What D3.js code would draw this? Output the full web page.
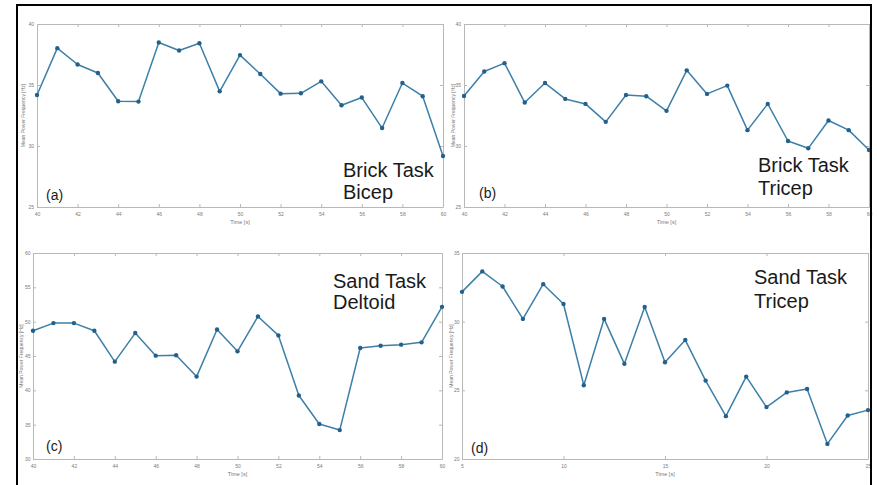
<!DOCTYPE html>
<html>
<head>
<meta charset="utf-8">
<script src="https://cdn.jsdelivr.net/npm/d3@7"></script>
<style>
  body { margin: 0; background: #fff; }
  svg { display: block; }
</style>
</head>
<body>
<svg id="chart" width="877" height="485"></svg>
<script>
// ---- Data -------------------------------------------------------------
const timeBrick = [40,41,42,43,44,45,46,47,48,49,50,51,52,53,54,55,56,57,58,59,60];
const timeSand  = [40,41,42,43,44,45,46,47,48,49,50,51,52,53,54,55,56,57,58,59,60];
const timeSandTricep = [5,6,7,8,9,10,11,12,13,14,15,16,17,18,19,20,21,22,23,24,25];

const brickBicep  = [34.18,38.02,36.68,35.98,33.67,33.64,38.48,37.83,38.42,34.48,37.45,
                     35.90,34.29,34.32,35.30,33.34,33.97,31.47,35.16,34.08,29.18];
const brickTricep = [34.10,36.11,36.79,33.56,35.16,33.86,33.45,31.98,34.18,34.08,32.88,
                     36.20,34.27,34.95,31.30,33.45,30.41,29.81,32.09,31.30,29.67];
const sandDeltoid = [48.68,49.79,49.79,48.68,44.18,48.34,45.05,45.10,42.00,48.87,45.68,
                     50.76,48.00,39.25,35.09,34.21,46.16,46.50,46.65,46.99,52.16];
const sandTricep  = [32.17,33.66,32.56,30.20,32.73,31.29,25.37,30.20,26.93,31.07,27.05,
                     28.66,25.71,23.12,26.00,23.78,24.85,25.10,21.10,23.17,23.56];

const xTicksBrick = [40,42,44,46,48,50,52,54,56,58,60];
const xTicksSandTricep = [5,10,15,20,25];
const yTicksBrick = [25,30,35,40];
const yTicksDeltoid = [30,35,40,45,50,55,60];
const yTicksSandTricep = [20,25,30,35];

const panelTags = ["(a)", "(b)", "(c)", "(d)"];
const panelTitles = [["Brick Task","Bicep"], ["Brick Task","Tricep"],
                     ["Sand Task","Deltoid"], ["Sand Task","Tricep"]];
const xAxisLabel = "Time [s]";
const yAxisLabel = "Mean Power Frequency [Hz]";

// ---- Panel layout -----------------------------------------------------
const panels = [
  { x: timeBrick, y: brickBicep, xd: [40,60], yd: [25,40], xt: xTicksBrick, yt: yTicksBrick,
    box: {l: 37, r: 443, t: 24, b: 207}, title: {x: 343, y: 177, dy: 22}, tag: {x: 46, y: 200},
    ylab: 24, ypad: 3 },
  { x: timeBrick, y: brickTricep, xd: [40,60], yd: [25,40], xt: xTicksBrick, yt: yTicksBrick,
    box: {l: 464, r: 869, t: 24, b: 207}, title: {x: 758, y: 172, dy: 23}, tag: {x: 479, y: 198},
    ylab: 454, ypad: 3 },
  { x: timeSand, y: sandDeltoid, xd: [40,60], yd: [30,60], xt: xTicksBrick, yt: yTicksDeltoid,
    box: {l: 33, r: 442, t: 253, b: 459}, title: {x: 333, y: 288, dy: 21}, tag: {x: 46, y: 451},
    ylab: 22, ypad: 2.5 },
  { x: timeSandTricep, y: sandTricep, xd: [5,25], yd: [20,35], xt: xTicksSandTricep, yt: yTicksSandTricep,
    box: {l: 462, r: 868, t: 253, b: 459}, title: {x: 754, y: 284, dy: 24}, tag: {x: 471, y: 453},
    ylab: 452, ypad: 2.5 }
];

const svg = d3.select("#chart");
const lineColor = "#3d7fa8";
const markColor = "#23618c";
const axisColor = "#b8b8b8";
const tickText = "#7a7a7a";
const font = "Liberation Sans, Arial, sans-serif";

panels.forEach((p, i) => {
  const b = p.box;
  const xs = d3.scaleLinear().domain(p.xd).range([b.l, b.r]);
  const ys = d3.scaleLinear().domain(p.yd).range([b.b, b.t]);
  const g = svg.append("g");

  // axes box with inward ticks on all four sides
  const styleAxis = sel => {
    sel.select(".domain").attr("stroke", axisColor).attr("stroke-width", 1);
    sel.selectAll(".tick line").attr("stroke", axisColor);
    sel.selectAll(".tick text").attr("fill", tickText)
       .style("font-family", font).style("font-size", "5px");
  };
  g.append("g").attr("transform", `translate(0,${b.b})`)
    .call(d3.axisBottom(xs).tickValues(p.xt).tickSizeInner(-3).tickSizeOuter(0).tickPadding(5))
    .call(styleAxis);
  g.append("g").attr("transform", `translate(0,${b.t})`)
    .call(d3.axisTop(xs).tickValues(p.xt).tickSizeInner(-3).tickSizeOuter(0).tickFormat(""))
    .call(styleAxis);
  g.append("g").attr("transform", `translate(${b.l},0)`)
    .call(d3.axisLeft(ys).tickValues(p.yt).tickSizeInner(-3).tickSizeOuter(0).tickPadding(p.ypad))
    .call(styleAxis);
  g.append("g").attr("transform", `translate(${b.r},0)`)
    .call(d3.axisRight(ys).tickValues(p.yt).tickSizeInner(-3).tickSizeOuter(0).tickFormat(""))
    .call(styleAxis);

  // axis labels
  g.append("text")
    .attr("x", (b.l + b.r) / 2).attr("y", b.b + 17)
    .attr("text-anchor", "middle").attr("fill", "#777")
    .style("font-family", font).style("font-size", "5.5px")
    .text(xAxisLabel);
  g.append("text")
    .attr("transform", `translate(${p.ylab},${(b.t + b.b) / 2}) rotate(-90)`)
    .attr("text-anchor", "middle").attr("dominant-baseline", "middle").attr("fill", "#777")
    .style("font-family", font).style("font-size", "5px")
    .text(yAxisLabel);

  // series line and markers
  const pts = p.x.map((t, k) => [t, p.y[k]]);
  g.append("path")
    .datum(pts)
    .attr("fill", "none").attr("stroke", lineColor).attr("stroke-width", 1.5)
    .attr("stroke-linejoin", "round")
    .attr("d", d3.line().x(d => xs(d[0])).y(d => ys(d[1])));
  g.selectAll("circle.pt").data(pts).join("circle")
    .attr("class", "pt")
    .attr("cx", d => xs(d[0])).attr("cy", d => ys(d[1])).attr("r", 2.2)
    .attr("fill", markColor);

  // panel title and tag
  const title = g.append("text")
    .attr("x", p.title.x).attr("y", p.title.y).attr("fill", "#1a1a1a")
    .style("font-family", font).style("font-size", "20px");
  panelTitles[i].forEach((line, k) => {
    title.append("tspan").attr("x", p.title.x).attr("dy", k === 0 ? 0 : p.title.dy).text(line);
  });
  g.append("text")
    .attr("x", p.tag.x).attr("y", p.tag.y).attr("fill", "#1a1a1a")
    .style("font-family", font).style("font-size", "14px")
    .text(panelTags[i]);
});

// outer frame
svg.append("path")
  .attr("d", "M17,486 V5 H871 V486")
  .attr("fill", "none").attr("stroke", "#000").attr("stroke-width", 2);
</script>
</body>
</html>
